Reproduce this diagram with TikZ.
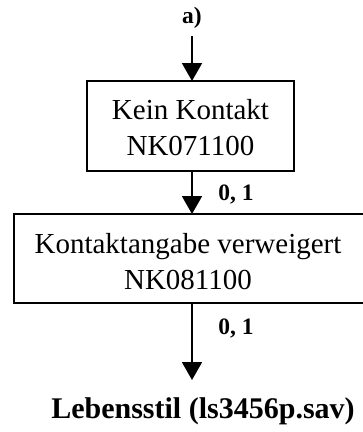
\documentclass[tikz,border=0pt]{standalone}
\usepackage{fontspec}
\setmainfont{Liberation Serif}
\usetikzlibrary{arrows.meta}
\begin{document}
\begin{tikzpicture}[x=1pt,y=-1pt,
  boxline/.style={draw=black,line width=1.9pt},
  arr/.style={line width=1.9pt,-{Triangle[length=18pt,width=20pt]}},
  maintext/.style={align=center,font=\fontsize{29}{36}\selectfont,inner sep=0pt},
  lbl/.style={font=\bfseries\fontsize{23.5}{28}\selectfont,inner sep=0pt}]
\useasboundingbox (0,0) rectangle (363,432);
\node[lbl] (a) at (192,18) {a)};
\coordinate (astart) at (192,36);
\draw[boxline] (87,81) rectangle (294,171);
\coordinate (b1top) at (192,81);
\coordinate (b1bot) at (192,171);
\node[maintext] (t1) at (190.5,128) {Kein Kontakt\\NK071100};
\draw[boxline] (14,214) rectangle (366,303);
\coordinate (b2top) at (192,214);
\coordinate (b2bot) at (192,303);
\node[maintext] (t2) at (188,262) {Kontaktangabe verweigert\\NK081100};
\node[lbl] (l1) at (236,194) {0, 1};
\node[lbl] (l2) at (236,328) {0, 1};
\coordinate (end) at (192,380);
\node[font=\bfseries\fontsize{30}{36}\selectfont,inner sep=0pt] (ls) at (203,411) {Lebensstil (ls3456p.sav)};
\draw[arr] (astart) -- (b1top);
\draw[arr] (b1bot) -- (b2top);
\draw[arr] (b2bot) -- (end);
\end{tikzpicture}
\end{document}
